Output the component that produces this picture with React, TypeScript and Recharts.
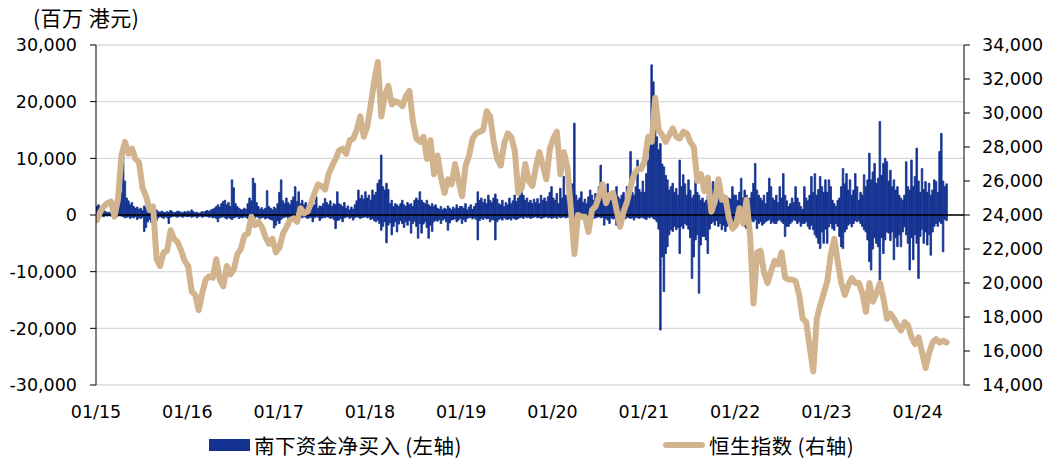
import React from 'react';
import { ComposedChart, Bar, Line, XAxis, YAxis, CartesianGrid, ReferenceLine } from 'recharts';

// ---- axes / labels ----
const years = [2015, 2016, 2017, 2018, 2019, 2020, 2021, 2022, 2023, 2024];
const xTickLabels = ['01/15', '01/16', '01/17', '01/18', '01/19', '01/20', '01/21', '01/22', '01/23', '01/24'];
const leftTicks = [-30000, -20000, -10000, 0, 10000, 20000, 30000];
const rightTicks = [14000, 16000, 18000, 20000, 22000, 24000, 26000, 28000, 30000, 32000, 34000];
const unitLabel = '(百万 港元)';
const barLegend = '南下资金净买入 (左轴)';
const lineLegend = '恒生指数 (右轴)';

// ---- southbound net buy, weekly high (inflow) and low (outflow), HKD mn ----
const up2015 = [1500, 1800, 1200, 900, 800, 600, 400, 500, 300, 400, 600, 900, 1200,
  2500, 4000, 10500, 6000, 3000, 2500, 1800, 2200, 1500, 1200, 1400, 1000, 1200,
  800, 1600, 1300, 900, 700, 600, 800, 1000, 900, 600, 500, 700, 500,
  400, 600, 500, 800, 600, 400, 500, 700, 600, 500, 400, 600, 500];
const dn2015 = [-200, -300, -100, -200, -300, -100, -200, -100, -200, -100, -200, -300, -200,
  -100, -200, -300, -500, -400, -300, -600, -400, -500, -300, -800, -500, -600,
  -400, -2900, -2200, -1200, -800, -1300, -600, -900, -1000, -500, -300, -400, -600,
  -300, -500, -1500, -400, -300, -200, -300, -400, -200, -300, -400, -200, -300];

const up2016 = [700, 500, 900, 600, 400, 500, 300, 400, 600, 500, 700, 800, 600,
  900, 1000, 1200, 1500, 1800, 1400, 2000, 2400, 2600, 1800, 2200, 1500, 6200,
  4800, 2000, 1500, 1200, 1000, 900, 1200, 1000, 2000, 3000, 2500, 6500, 5600,
  2200, 1500, 1000, 1300, 900, 1200, 4300, 1500, 1200, 900, 1400, 1100, 2000];
const dn2016 = [-300, -200, -400, -300, -200, -500, -300, -200, -400, -300, -200, -300, -400,
  -300, -500, -400, -600, -1200, -500, -400, -300, -500, -700, -400, -600, -800,
  -500, -400, -300, -600, -400, -500, -300, -400, -600, -500, -300, -400, -500,
  -300, -400, -600, -500, -400, -700, -500, -600, -800, -900, -2300, -1800, -1000];

const up2017 = [4000, 6200, 2500, 2000, 3000, 2200, 1800, 2600, 3200, 5000, 2400, 4100, 2000,
  2600, 1800, 2200, 1500, 2000, 1200, 1500, 1800, 3200, 1200, 1600, 1500, 2000,
  2900, 2200, 1800, 2500, 1500, 2000, 1800, 4100, 2000, 1800, 1500, 2200, 1200,
  1600, 900, 1400, 1000, 1800, 2500, 4400, 2900, 3500, 2800, 4100, 3000, 3500];
const dn2017 = [-1500, -800, -500, -400, -300, -600, -400, -300, -500, -400, -600, -300, -400,
  -500, -300, -400, -600, -500, -400, -1200, -500, -300, -400, -1000, -600, -400,
  -500, -300, -400, -600, -500, -800, -2400, -1000, -900, -600, -1200, -500, -400,
  -300, -600, -400, -900, -500, -300, -400, -600, -500, -400, -300, -500, -400];

const up2018 = [2600, 4400, 3500, 4000, 5600, 6200, 10600, 5000, 4400, 5600, 4500, 2000, 2600,
  1500, 2000, 1800, 1500, 2000, 2600, 1800, 1500, 2200, 1800, 2000, 1500, 2600,
  3000, 2600, 4100, 2600, 2200, 2000, 2600, 1800, 1500, 2000, 1500, 1800, 1200,
  1000, 1500, 900, 1200, 1000, 1600, 1200, 900, 1400, 1100, 1800, 1200, 1500];
const dn2018 = [-800, -600, -1000, -1200, -900, -1500, -2700, -2000, -1200, -4900, -1800, -1400, -3500,
  -2000, -1200, -3000, -1600, -1000, -1500, -2200, -1200, -1800, -1000, -3200, -1500, -1100,
  -2000, -4100, -1500, -3200, -1600, -1200, -2200, -4100, -1800, -2900, -1200, -900, -1100,
  -800, -1500, -900, -700, -1200, -2700, -1400, -900, -800, -700, -1200, -900, -600];

const up2019 = [1500, 1200, 2000, 900, 1400, 1800, 1000, 1500, 2000, 4100, 2600, 3000, 2200,
  2800, 2000, 3500, 2600, 2200, 3000, 3700, 2800, 2000, 1800, 2600, 1500, 2200,
  1800, 3000, 2000, 2500, 3500, 2400, 3000, 4100, 5000, 3500, 2600, 3000, 2200,
  2600, 2000, 2800, 2200, 2900, 2000, 3500, 2600, 3000, 2400, 3200, 4000, 5000];
const dn2019 = [-1500, -800, -1200, -600, -500, -400, -700, -500, -800, -4400, -1000, -600, -800,
  -500, -700, -600, -1200, -800, -900, -4400, -1200, -800, -600, -900, -500, -700,
  -800, -600, -900, -500, -700, -800, -600, -500, -400, -600, -300, -500, -400,
  -600, -500, -400, -300, -500, -400, -600, -500, -400, -300, -500, -400, -600];

const up2020 = [3000, 2600, 3800, 2000, 4700, 3000, 6800, 3500, 2600, 4000, 5000, 5500, 16200,
  3500, 2600, 3000, 4100, 2200, 2800, 2000, 3200, 4400, 3500, 2600, 3800, 3000,
  5000, 8800, 5000, 3500, 2800, 5500, 3500, 2600, 3000, 2400, 5000, 3200, 2800,
  3500, 4000, 3000, 5000, 5000, 11200, 4000, 3500, 5000, 9700, 4500, 4000, 6000];
const dn2020 = [-500, -400, -600, -300, -500, -400, -300, -500, -400, -300, -600, -500, -900,
  -700, -500, -400, -600, -500, -400, -700, -500, -900, -400, -600, -500, -400,
  -300, -500, -400, -1800, -600, -900, -1500, -500, -700, -600, -1800, -800, -2000,
  -600, -500, -700, -400, -500, -600, -500, -900, -400, -500, -600, -400, -500];

const up2021 = [4000, 7300, 9700, 12600, 26500, 23500, 19700, 13800, 11500, 12600, 9000, 8500, 7000,
  6200, 4400, 5000, 5600, 4000, 4700, 3500, 9700, 5000, 7100, 5500, 3500, 6200,
  4400, 3000, 3500, 6200, 4000, 3500, 2600, 3000, 2200, 2600, 3500, 2000, 3000,
  5900, 3200, 2800, 4100, 5000, 3000, 2600, 3500, 2200, 3000, 2800, 5000, 3500];
const dn2021 = [-600, -800, -400, -500, -300, -600, -800, -1200, -2500, -20300, -7400, -13500, -6800,
  -5600, -3500, -2600, -2900, -2000, -2600, -2200, -6800, -2000, -2400, -1500, -1800, -2500,
  -4000, -11200, -7400, -4400, -3500, -13800, -5300, -3800, -3800, -4400, -6800, -2500, -1500,
  -1200, -1800, -1000, -2000, -1500, -2600, -1800, -2900, -2000, -1700, -1500, -1200, -2000];

const up2022 = [3500, 2600, 4000, 6500, 3000, 4400, 3500, 2600, 3000, 4000, 5600, 9100, 4400,
  3500, 3000, 2600, 3500, 2000, 4000, 6500, 5000, 3000, 2600, 3500, 2200, 5000,
  3000, 7300, 3500, 2500, 1500, 2000, 3000, 2200, 5000, 3000, 2200, 1500, 1000,
  5000, 3000, 2500, 3500, 6800, 4000, 7300, 3500, 4500, 6800, 5000, 4000, 6200];
const dn2022 = [-1200, -1800, -1200, -800, -1500, -2000, -2400, -1500, -1200, -1000, -1200, -800, -2400,
  -1500, -1200, -1800, -1500, -1200, -1000, -800, -1500, -1200, -1500, -1500, -1000, -800,
  -1200, -1500, -3800, -2000, -2000, -1500, -1200, -800, -1000, -1500, -1200, -2000, -1500,
  -1500, -1200, -2000, -2500, -1800, -2600, -3500, -4000, -5000, -5900, -3000, -5000, -2500];

const up2023 = [4000, 6200, 5000, 2600, 2000, 1500, 2600, 3000, 5000, 8200, 5500, 7300, 4400,
  6200, 3500, 4400, 7300, 5000, 2600, 4000, 3500, 7100, 5000, 6200, 10900, 6200,
  7600, 9100, 5600, 6500, 16500, 7000, 9100, 10000, 9400, 6000, 7900, 5000, 6200,
  4400, 5000, 3500, 3000, 2600, 3500, 9400, 5000, 4400, 9700, 5000, 6800, 11800];
const dn2023 = [-5000, -2100, -1500, -2400, -2700, -1500, -2000, -3800, -5600, -5900, -3000, -2500, -1800,
  -1500, -2100, -1500, -1000, -1200, -1000, -1500, -2000, -2600, -3000, -4400, -8200, -9700,
  -6000, -4000, -5000, -5600, -11500, -4000, -6800, -4400, -3000, -3200, -4500, -3000, -7900,
  -4000, -5600, -3500, -5600, -3000, -2100, -3500, -5000, -9700, -4000, -7900, -3500, -5000];

const up2024 = [6000, 4000, 8200, 4500, 5900, 4000, 5600, 3500, 4400, 6200, 5900, 4000, 11200, 14400, 6000, 5000, 5500];
const dn2024 = [-11200, -3800, -2500, -5000, -3000, -5300, -3500, -7100, -3000, -2000, -1500, -2000, -1200, -1500, -6500, -800, -1000];

// ---- Hang Seng Index, every second week ----
const hsi2015 = [23700, 24200, 24500, 24700, 24800, 23900, 24900, 27500, 28300, 27600, 27900, 27300, 27100,
  25600, 25100, 24300, 24500, 21400, 21000, 21800, 21900, 23100, 22600, 22400, 21900, 21300];
const hsi2016 = [21000, 19500, 19300, 18400, 19400, 20200, 20400, 20300, 21400, 20200, 19800, 21000, 20500,
  20800, 21700, 22000, 22800, 22900, 23900, 23400, 23600, 23300, 22700, 22300, 22600, 21800];
const hsi2017 = [22100, 22900, 23300, 23700, 23800, 23600, 24400, 24100, 24200, 24700, 25300, 25800, 25700,
  25500, 26400, 26900, 27300, 27800, 27900, 27600, 28400, 28500, 29000, 29800, 28600, 29200];
const hsi2018 = [30500, 31900, 33000, 29800, 31000, 31600, 30500, 30700, 30600, 30400, 31000, 31300, 29500,
  28500, 28300, 28600, 27300, 28400, 26400, 27500, 26200, 25300, 26100, 25800, 27000, 26000];
const hsi2019 = [25100, 26900, 27500, 28500, 28800, 28900, 29000, 30100, 29800, 28300, 27300, 26900, 28200,
  28800, 28600, 27800, 25300, 25600, 27000, 26000, 25700, 26800, 27700, 26900, 26100, 27900];
const hsi2020 = [28500, 28900, 26400, 27700, 26800, 24300, 21700, 24000, 23900, 23900, 23000, 24300, 24500,
  25100, 25800, 24700, 25200, 25300, 24300, 23300, 24200, 24800, 25700, 26400, 26700, 26700];
const hsi2021 = [27200, 28600, 28300, 30900, 29000, 28700, 28300, 28700, 29100, 28600, 28500, 28900, 28800,
  28300, 28000, 26000, 26400, 25400, 26200, 24200, 24800, 26100, 24900, 25000, 23800, 23200];
const hsi2022 = [23400, 24400, 23500, 24900, 22800, 18800, 21800, 21900, 20600, 20000, 20700, 21300, 21100,
  21800, 20300, 20200, 20200, 20100, 19300, 17900, 17700, 16200, 14800, 17900, 18700, 19400];
const hsi2023 = [20100, 21700, 22600, 21200, 20000, 19300, 19900, 20300, 20000, 20000, 19400, 18300, 20000,
  18900, 19400, 20000, 19100, 17900, 18200, 17900, 17500, 17200, 17700, 17500, 16800, 16400];
const hsi2024 = [16800, 15900, 15000, 15900, 16500, 16700, 16500, 16600, 16500];

const upByYear = [up2015, up2016, up2017, up2018, up2019, up2020, up2021, up2022, up2023, up2024];
const dnByYear = [dn2015, dn2016, dn2017, dn2018, dn2019, dn2020, dn2021, dn2022, dn2023, dn2024];
const hsiByYear = [hsi2015, hsi2016, hsi2017, hsi2018, hsi2019, hsi2020, hsi2021, hsi2022, hsi2023, hsi2024];

type Row = { t: number; up: number; dn: number; hsi: number | null };
const data: Row[] = [];
years.forEach((yr, yi) => {
  const ups = upByYear[yi];
  ups.forEach((u, i) => {
    const h = i % 2 === 0 ? hsiByYear[yi][i / 2] : undefined;
    data.push({ t: yr + (i + 0.5) / 52, up: u, dn: dnByYear[yi][i], hsi: h === undefined ? null : h });
  });
});

const BLUE = '#143291';
const TAN = '#D1B38E';
const NUM_FONT = '"DejaVu Sans", sans-serif';
const CJK_FONT = '"Noto Sans CJK SC", sans-serif';

const fmt = (v: number) => v.toLocaleString('en-US');

export default function App() {
  return (
    <div style={{ position: 'absolute', left: 0, top: 0, width: 1046, height: 459, background: '#fff' }}>
      <div style={{ position: 'absolute', left: 33, top: 4, fontSize: 21, letterSpacing: 0.5, fontFamily: CJK_FONT, color: '#000', lineHeight: '26px', whiteSpace: 'nowrap' }}>
        {unitLabel}
      </div>
      <ComposedChart
        width={1046}
        height={459}
        data={data}
        stackOffset="sign"
        margin={{ top: 45, right: 0, bottom: 0, left: 0 }}
      >
        <CartesianGrid yAxisId="left" vertical={false} stroke="#d9d9d9" strokeWidth={1.3} />
        <XAxis
          dataKey="t"
          type="number"
          domain={[2015, 2024.507]}
          ticks={years}
          interval={0}
          tickFormatter={(v: number) => xTickLabels[years.indexOf(v)] ?? ''}
          axisLine={false}
          tickLine={false}
          tickSize={0}
          tickMargin={21}
          height={74}
          allowDataOverflow
          tick={{ fontSize: 17.5, fill: '#000', fontFamily: NUM_FONT }}
        />
        <YAxis
          yAxisId="left"
          domain={[-30000, 30000]}
          ticks={leftTicks}
          interval={0}
          width={96}
          tickSize={6}
          tickMargin={13}
          stroke="#000"
          tickFormatter={fmt}
          tick={{ fontSize: 17.5, fill: '#000', fontFamily: NUM_FONT }}
        />
        <YAxis
          yAxisId="right"
          orientation="right"
          domain={[14000, 34000]}
          ticks={rightTicks}
          interval={0}
          width={82}
          tickSize={6}
          tickMargin={12}
          stroke="#000"
          tickFormatter={fmt}
          tick={{ fontSize: 17.5, fill: '#000', fontFamily: NUM_FONT }}
        />
        <Bar yAxisId="left" dataKey="up" stackId="s" fill={BLUE} stroke={BLUE} strokeWidth={0.8} barSize={2} isAnimationActive={false} />
        <Bar yAxisId="left" dataKey="dn" stackId="s" fill={BLUE} stroke={BLUE} strokeWidth={0.8} barSize={2} isAnimationActive={false} />
        <ReferenceLine yAxisId="left" y={0} stroke="#000" strokeWidth={1.6} />
        <Line
          yAxisId="right"
          dataKey="hsi"
          type="linear"
          stroke={TAN}
          strokeWidth={6}
          strokeLinejoin="round"
          strokeLinecap="round"
          dot={false}
          connectNulls
          isAnimationActive={false}
        />
      </ComposedChart>
      <div style={{ position: 'absolute', left: 209, top: 439, width: 41, height: 12, background: BLUE }} />
      <div style={{ position: 'absolute', left: 254, top: 431, fontSize: 20.5, letterSpacing: 0.4, fontFamily: CJK_FONT, color: '#000', lineHeight: '28px', whiteSpace: 'nowrap' }}>
        {barLegend}
      </div>
      <div style={{ position: 'absolute', left: 663, top: 442, width: 42, height: 6, borderRadius: 3, background: TAN }} />
      <div style={{ position: 'absolute', left: 709, top: 431, fontSize: 20.5, letterSpacing: 0.4, fontFamily: CJK_FONT, color: '#000', lineHeight: '28px', whiteSpace: 'nowrap' }}>
        {lineLegend}
      </div>
    </div>
  );
}
